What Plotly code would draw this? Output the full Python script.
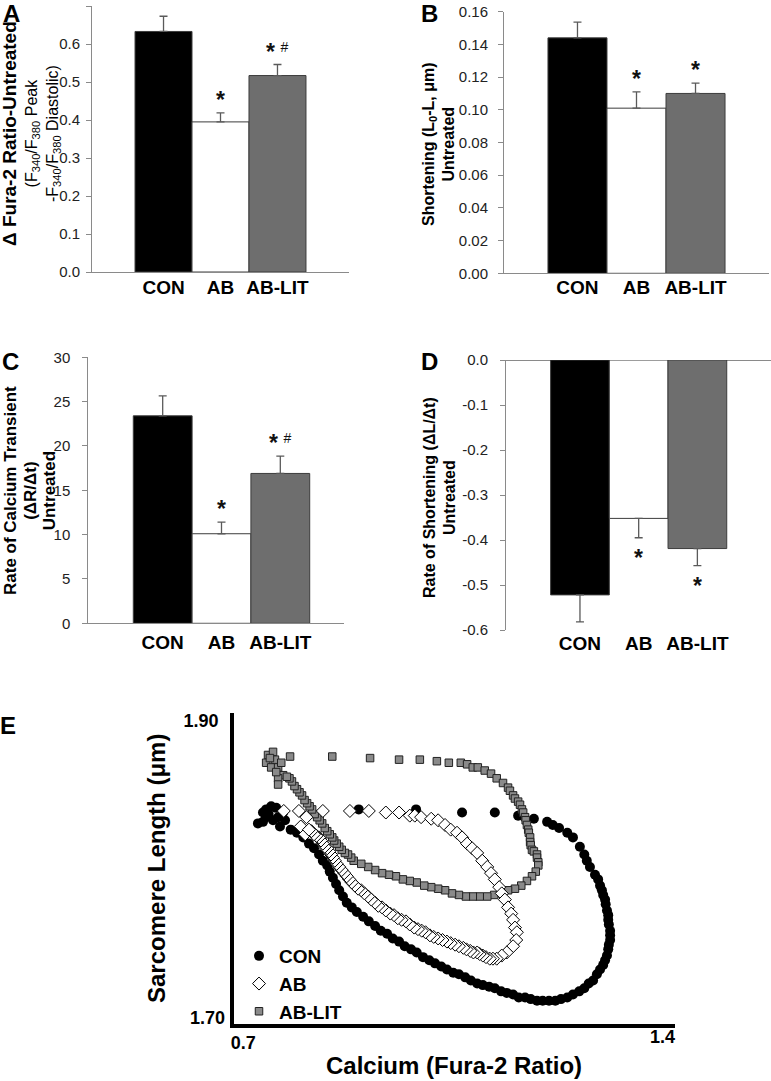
import plotly.graph_objects as go

# ---------------- data ----------------
categories = ["CON", "AB", "AB-LIT"]
bar_colors = ["#000000", "#ffffff", "#6e6e6e"]

STAR = "<span style='font-size:23px'><b>*</b></span>"
STAR_HASH = "<span style='font-size:23px'><b>*</b></span> <sup>#</sup>"

A_means = [0.633, 0.395, 0.517]
A_err = [0.040, 0.024, 0.029]
A_sig = ["", STAR, STAR_HASH]

B_means = [0.144, 0.101, 0.110]
B_err = [0.0096, 0.0100, 0.0063]
B_sig = ["", STAR, STAR]

C_means = [23.4, 10.1, 16.9]
C_err = [2.25, 1.30, 1.95]
C_sig = ["", STAR, STAR_HASH]

D_means = [-0.522, -0.352, -0.419]
D_err = [0.060, 0.043, 0.038]
D_sig = ["", STAR, STAR]
D_tickvals = [0.0, -0.1, -0.2, -0.3, -0.4, -0.5, -0.6]
D_ticktext = ["0.0", "-0.1", "-0.2", "-0.3", "-0.4", "-0.5", "-0.6"]

# Panel E: calcium (Fura-2 ratio) vs sarcomere length loops
con_x = [0.738, 0.746, 0.751, 0.759, 0.767, 0.778, 0.781, 0.773, 0.762, 0.751, 0.746, 0.755, 0.770,
         0.898, 0.989, 1.062, 1.114, 1.151, 1.176, 1.197, 1.206, 1.216, 1.229, 1.238, 1.249, 1.256,
         1.260, 1.265, 1.273, 1.278, 1.281, 1.284, 1.286, 1.289, 1.290, 1.292, 1.294, 1.294, 1.295,
         1.297, 1.297, 1.297, 1.295, 1.294, 1.292, 1.289, 1.286, 1.281, 1.276, 1.270, 1.263, 1.256,
         1.248, 1.238, 1.229, 1.219, 1.210, 1.200, 1.190, 1.181, 1.171, 1.162, 1.152, 1.143, 1.133,
         1.124, 1.114, 1.105, 1.095, 1.086, 1.076, 1.067, 1.057, 1.048, 1.038, 1.029, 1.019, 1.010,
         1.000, 0.990, 0.981, 0.971, 0.962, 0.952, 0.943, 0.933, 0.924, 0.914, 0.905, 0.895, 0.887,
         0.879, 0.873, 0.867, 0.862, 0.857, 0.852, 0.848, 0.841, 0.835, 0.827, 0.819, 0.810, 0.800,
         0.790]
con_y = [1.829, 1.830, 1.838, 1.840, 1.839, 1.836, 1.831, 1.827, 1.831, 1.833, 1.836, 1.835, 1.833,
         1.838, 1.838, 1.836, 1.836, 1.834, 1.832, 1.830, 1.828, 1.826, 1.823, 1.820, 1.814, 1.809,
         1.805, 1.801, 1.796, 1.793, 1.789, 1.786, 1.783, 1.780, 1.777, 1.773, 1.770, 1.767, 1.764,
         1.760, 1.757, 1.754, 1.751, 1.748, 1.744, 1.741, 1.738, 1.735, 1.732, 1.728, 1.726, 1.723,
         1.721, 1.719, 1.717, 1.716, 1.715, 1.715, 1.715, 1.715, 1.716, 1.717, 1.717, 1.719, 1.720,
         1.721, 1.723, 1.724, 1.725, 1.726, 1.728, 1.730, 1.732, 1.733, 1.735, 1.737, 1.739, 1.741,
         1.743, 1.746, 1.748, 1.750, 1.753, 1.755, 1.758, 1.760, 1.763, 1.766, 1.769, 1.772, 1.775,
         1.778, 1.782, 1.786, 1.790, 1.794, 1.798, 1.802, 1.805, 1.809, 1.813, 1.816, 1.820, 1.823,
         1.825]

ab_x = [0.779, 0.803, 0.806, 0.813, 0.815,
        0.841, 0.884, 0.914, 0.941, 0.962, 0.979, 0.987, 0.997, 1.013, 1.024, 1.035, 1.044, 1.054,
        1.062, 1.070, 1.078, 1.086, 1.094, 1.102, 1.108, 1.114, 1.121, 1.125, 1.130, 1.135, 1.140,
        1.143, 1.146, 1.149, 1.148, 1.143, 1.133, 1.125, 1.117, 1.111, 1.106, 1.100, 1.095, 1.090,
        1.086, 1.080, 1.075, 1.069, 1.064, 1.057, 1.051, 1.044, 1.038, 1.031, 1.024, 1.017, 1.011,
        1.004, 0.998, 0.992, 0.986, 0.979, 0.973, 0.966, 0.960, 0.954, 0.948, 0.941, 0.935, 0.929,
        0.924, 0.918, 0.913, 0.907, 0.902, 0.897, 0.892, 0.887, 0.883, 0.879, 0.875, 0.871, 0.867,
        0.863, 0.860, 0.857, 0.854, 0.851, 0.848, 0.844, 0.841, 0.838, 0.835, 0.831, 0.827, 0.823,
        0.819]
ab_y = [1.837, 1.837, 1.827, 1.822, 1.833,
        1.837, 1.837, 1.837, 1.836, 1.836, 1.834, 1.834, 1.833, 1.832, 1.831, 1.828, 1.825, 1.823,
        1.820, 1.816, 1.813, 1.810, 1.805, 1.801, 1.797, 1.793, 1.788, 1.784, 1.780, 1.775, 1.771,
        1.767, 1.762, 1.759, 1.754, 1.750, 1.746, 1.744, 1.742, 1.742, 1.742, 1.743, 1.744, 1.745,
        1.746, 1.746, 1.747, 1.748, 1.749, 1.750, 1.751, 1.752, 1.753, 1.754, 1.755, 1.756, 1.757,
        1.759, 1.760, 1.761, 1.762, 1.764, 1.766, 1.767, 1.768, 1.770, 1.771, 1.773, 1.775, 1.776,
        1.778, 1.780, 1.782, 1.784, 1.786, 1.787, 1.789, 1.791, 1.793, 1.795, 1.797, 1.799, 1.801,
        1.803, 1.805, 1.807, 1.809, 1.811, 1.813, 1.814, 1.816, 1.818, 1.820, 1.821, 1.822, 1.824,
        1.825]

lit_x = [0.754, 0.762, 0.765, 0.751, 0.759, 0.770, 0.778, 0.770, 0.770, 0.775, 0.757, 0.767,
         0.789, 0.856, 0.916, 0.962, 0.995, 1.022, 1.041, 1.060, 1.070, 1.079, 1.087, 1.098, 1.108,
         1.117, 1.127, 1.135, 1.138, 1.143, 1.146, 1.151, 1.154, 1.157, 1.159, 1.162, 1.163, 1.165,
         1.167, 1.168, 1.170, 1.170, 1.171, 1.173, 1.176, 1.181, 1.181, 1.183, 1.183, 1.179, 1.173,
         1.165, 1.156, 1.146, 1.135, 1.124, 1.113, 1.102, 1.090, 1.079, 1.068, 1.057, 1.046, 1.035,
         1.024, 1.013, 1.002, 0.990, 0.979, 0.968, 0.957, 0.946, 0.935, 0.924, 0.913, 0.902, 0.890,
         0.886, 0.881, 0.876, 0.871, 0.867, 0.863, 0.859, 0.856, 0.852, 0.848, 0.844, 0.840, 0.836,
         0.832, 0.828, 0.824, 0.820, 0.816, 0.812, 0.808, 0.804, 0.800, 0.796, 0.792, 0.788, 0.784]
lit_y = [1.873, 1.875, 1.870, 1.868, 1.865, 1.865, 1.860, 1.858, 1.854, 1.868, 1.871, 1.862,
         1.872, 1.872, 1.871, 1.870, 1.870, 1.869, 1.868, 1.868, 1.867, 1.865, 1.865, 1.863, 1.861,
         1.858, 1.855, 1.852, 1.850, 1.847, 1.845, 1.843, 1.841, 1.838, 1.836, 1.833, 1.831, 1.828,
         1.825, 1.823, 1.820, 1.817, 1.815, 1.812, 1.811, 1.809, 1.807, 1.804, 1.802, 1.798, 1.795,
         1.792, 1.789, 1.787, 1.786, 1.784, 1.783, 1.782, 1.782, 1.782, 1.782, 1.783, 1.784, 1.786,
         1.787, 1.788, 1.789, 1.791, 1.792, 1.793, 1.795, 1.796, 1.797, 1.799, 1.801, 1.803, 1.805,
         1.807, 1.809, 1.810, 1.812, 1.814, 1.816, 1.818, 1.820, 1.822, 1.824, 1.826, 1.829, 1.831,
         1.833, 1.835, 1.838, 1.840, 1.842, 1.844, 1.847, 1.849, 1.851, 1.853, 1.856, 1.858, 1.859]

E_xticks = [0.7, 1.4]
E_xticklabels = ["0.7", "1.4"]
E_yticks = [1.90, 1.70]
E_yticklabels = ["1.90", "1.70"]

# ---------------- figure ----------------
W, H = 771, 1081
FONT = "Arial, 'Liberation Sans', sans-serif"
AXGRAY = "#8a8a8a"


def px_x(a, b):
    return [a / W, b / W]


def px_y(top, bottom):
    return [1 - bottom / H, 1 - top / H]


fig = go.Figure()

panels = [
    # key, means, err, sig, xdomain, ydomain, xrange, yrange, down
    ("1", A_means, A_err, A_sig, px_x(92, 349), px_y(6, 272), [-1.255, 3.255], [0, 0.7], False),
    ("2", B_means, B_err, B_sig, px_x(504, 769), px_y(11.7, 273.3), [-1.245, 3.245], [0, 0.16], False),
    ("3", C_means, C_err, C_sig, px_x(88.3, 344), px_y(357.3, 623.3), [-1.265, 3.083], [0, 30], False),
    ("4", D_means, D_err, D_sig, px_x(506, 771), px_y(360, 630), [-1.26, 3.254], [-0.6, 0], True),
]

for key, means, err, sig, xd, yd, xr, yr, down in panels:
    xa = "x" + key
    ya = "y" + key
    fig.add_trace(go.Bar(
        x=categories, y=means, width=1,
        marker=dict(color=bar_colors, line=dict(color="#3c3c3c", width=1)),
        error_y=dict(type="data", symmetric=False,
                     array=[0] * 3 if down else err,
                     arrayminus=err if down else [0] * 3,
                     color="#5a5a5a", thickness=1.3, width=4),
        xaxis=xa, yaxis=ya, showlegend=False, hoverinfo="skip"))
    for c, m, e, s in zip(categories, means, err, sig):
        if not s:
            continue
        if down:
            fig.add_annotation(x=c, y=m - e, xref=xa, yref=ya, text=s, showarrow=False,
                               yanchor="top", yshift=-5,
                               font=dict(family=FONT, size=20, color="#111"))
        else:
            fig.add_annotation(x=c, y=m + e, xref=xa, yref=ya, text=s, showarrow=False,
                               yanchor="bottom", yshift=-2,
                               font=dict(family=FONT, size=20, color="#111"))

common_y = dict(showline=True, linecolor=AXGRAY, linewidth=1, ticks="outside", ticklen=5,
                tickcolor=AXGRAY, tickfont=dict(family=FONT, size=15, color="#222"),
                showgrid=False, zeroline=False, automargin=False)
common_x = dict(showline=True, linecolor=AXGRAY, linewidth=1, ticks="",
                tickfont=dict(family=FONT, size=19, color="#000", weight="bold"),
                showgrid=False, zeroline=False, automargin=False, type="category")

fig.update_layout(
    xaxis1=dict(common_x, domain=panels[0][4], range=panels[0][6], anchor="y1",
                ticklabelstandoff=-2),
    yaxis1=dict(common_y, domain=panels[0][5], range=panels[0][7], anchor="x1",
                dtick=0.1, tickformat=".1f", ticklabelstandoff=3),
    xaxis2=dict(common_x, domain=panels[1][4], range=panels[1][6], anchor="y2",
                ticklabelstandoff=-3),
    yaxis2=dict(common_y, domain=panels[1][5], range=panels[1][7], anchor="x2",
                dtick=0.02, tickformat=".2f", ticklabelstandoff=7),
    xaxis3=dict(common_x, domain=panels[2][4], range=panels[2][6], anchor="y3",
                ticklabelstandoff=2),
    yaxis3=dict(common_y, domain=panels[2][5], range=panels[2][7], anchor="x3",
                dtick=5, ticklabelstandoff=9),
    xaxis4=dict(common_x, domain=panels[3][4], range=panels[3][6], anchor="y4", showline=False,
                ticklabelstandoff=0),
    yaxis4=dict(common_y, domain=panels[3][5], range=panels[3][7], anchor="x4",
                tickvals=D_tickvals, ticktext=D_ticktext, zeroline=True,
                zerolinecolor=AXGRAY, zerolinewidth=1, ticklabelstandoff=9),
)

# y-axis titles of the bar panels (rotated); base size sets the line spacing
ytitles = [
    ("<span style='font-size:19px'><b>Δ Fura-2 Ratio-Untreated</b></span><br>"
     "(F<sub>340</sub>/F<sub>380</sub> Peak<br>-F<sub>340</sub>/F<sub>380</sub> Diastolic)",
     31, 134, 16),
    ("<span style='font-size:16px'><b>Shortening (L<sub>0</sub>-L, μm)<br>Untreated</b></span>",
     439, 144, 15),
    ("<span style='font-size:17px'><b>Rate of Calcium Transient<br>(ΔR/Δt)<br>Untreated</b></span>",
     30, 491, 15),
    ("<span style='font-size:16px'><b>Rate of Shortening (ΔL/Δt)<br>Untreated</b></span>",
     439, 498, 15),
]
for txt, cx, cy, fs in ytitles:
    fig.add_annotation(x=cx / W, y=1 - cy / H, xref="paper", yref="paper", text=txt,
                       textangle=-90, showarrow=False, xanchor="center", yanchor="middle",
                       align="center", font=dict(family=FONT, size=fs, color="#000"))

# ---- Panel E ----
xdE = px_x(234, 675)
ydE = px_y(713, 1024)
fig.add_trace(go.Scatter(x=con_x, y=con_y, mode="markers", name="CON",
                         marker=dict(symbol="circle", size=10, color="#000000",
                                     line=dict(width=0)),
                         xaxis="x5", yaxis="y5", legendrank=1))
fig.add_trace(go.Scatter(x=lit_x, y=lit_y, mode="markers", name="AB-LIT",
                         marker=dict(symbol="square", size=7.5, color="#8a8a8a",
                                     line=dict(width=1, color="#222222")),
                         xaxis="x5", yaxis="y5", legendrank=3))
fig.add_trace(go.Scatter(x=ab_x, y=ab_y, mode="markers", name="AB",
                         marker=dict(symbol="diamond", size=10, color="#ffffff",
                                     line=dict(width=1, color="#000000")),
                         xaxis="x5", yaxis="y5", legendrank=2))

tickfontE = dict(family=FONT, size=18, color="#000", weight="bold")
fig.update_layout(
    xaxis5=dict(domain=xdE, range=[0.7, 1.4], anchor="y5", showline=True, linecolor="#000",
                linewidth=3.5, ticks="", showgrid=False, zeroline=False, automargin=False,
                tickvals=[E_xticks[0]], ticktext=[E_xticklabels[0]],
                ticklabelposition="outside right", ticklabelshift=-5, tickfont=tickfontE),
    xaxis6=dict(overlaying="x5", range=[0.7, 1.4], anchor="y5", showline=False, ticks="",
                showgrid=False, zeroline=False, automargin=False,
                tickvals=[E_xticks[1]], ticktext=[E_xticklabels[1]],
                ticklabelposition="outside left", tickfont=tickfontE),
    yaxis5=dict(domain=ydE, range=[1.70, 1.90], anchor="x5", showline=True, linecolor="#000",
                linewidth=3.5, ticks="", showgrid=False, zeroline=False, automargin=False,
                tickvals=[E_yticks[0]], ticktext=[E_yticklabels[0]],
                ticklabelposition="outside bottom", ticklabelshift=-5, ticklabelstandoff=8,
                tickfont=tickfontE),
    yaxis6=dict(overlaying="y5", range=[1.70, 1.90], anchor="x5", showline=False, ticks="",
                showgrid=False, zeroline=False, automargin=False,
                tickvals=[E_yticks[1]], ticktext=[E_yticklabels[1]],
                ticklabelposition="outside top", ticklabelshift=6, ticklabelstandoff=8,
                tickfont=tickfontE),
)
fig.add_trace(go.Scatter(x=[], y=[], xaxis="x6", yaxis="y5", showlegend=False))
fig.add_trace(go.Scatter(x=[], y=[], xaxis="x5", yaxis="y6", showlegend=False))

fig.add_annotation(x=156 / W, y=1 - 869 / H, xref="paper", yref="paper",
                   text="<b>Sarcomere Length (μm)</b>", textangle=-90, showarrow=False,
                   xanchor="center", yanchor="middle",
                   font=dict(family=FONT, size=24, color="#000"))
fig.add_annotation(x=454 / W, y=1 - 1065 / H, xref="paper", yref="paper",
                   text="<b>Calcium (Fura-2 Ratio)</b>", showarrow=False,
                   xanchor="center", yanchor="middle",
                   font=dict(family=FONT, size=24, color="#000"))

# panel letters
for letter, (lx, ly) in zip(["A", "B", "C", "D", "E"],
                            [(11, 14), (429, 13), (10, 361), (429, 361), (8, 725)]):
    fig.add_annotation(x=lx / W, y=1 - ly / H, xref="paper", yref="paper", text=letter,
                       showarrow=False, xanchor="center", yanchor="middle",
                       font=dict(family=FONT, size=24, color="#000", weight="bold"))

fig.update_layout(
    width=W, height=H, margin=dict(l=0, r=0, t=0, b=0),
    paper_bgcolor="#ffffff", plot_bgcolor="#ffffff",
    template="none",
    font=dict(family=FONT, color="#000"),
    legend=dict(x=239 / W, y=1 - 937 / H, xanchor="left", yanchor="top",
                bgcolor="rgba(0,0,0,0)", borderwidth=0,
                font=dict(family=FONT, size=19, color="#000", weight="bold"),
                tracegroupgap=0),
)

fig.write_html("out.html", config={"displayModeBar": False},
               post_script="document.body.style.margin='0';document.body.style.overflow='hidden';")
